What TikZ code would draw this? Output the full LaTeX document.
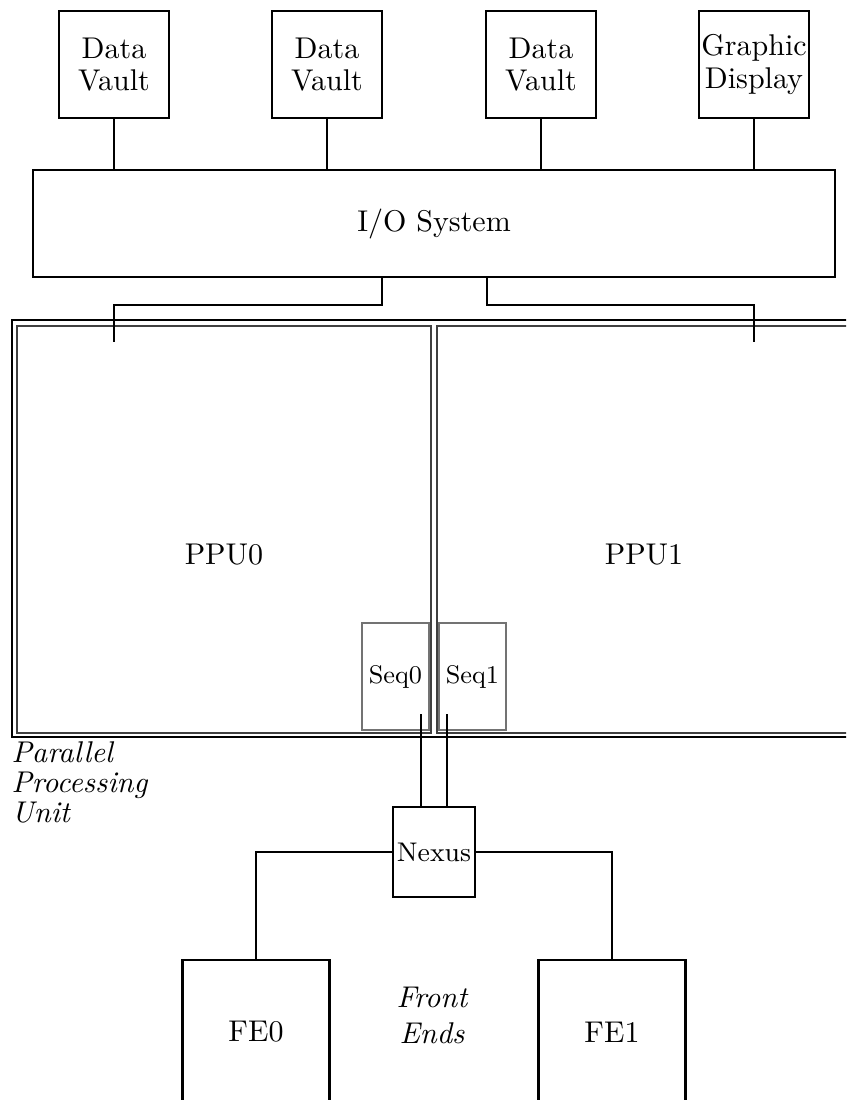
\documentclass[tikz,border=0pt]{standalone}
\usetikzlibrary{positioning, calc}

\begin{document}
\begin{tikzpicture}[x=0.3333pt, y=-0.3333pt,
        unit/.style={draw, line width=0.7pt, inner sep=0pt, align=center,
          font=\fontsize{10}{10.8}\selectfont},
        vault/.style={unit, minimum width=36.5pt, minimum height=35.7pt},
        febox/.style={unit, minimum width=49pt, minimum height=48pt},
        ppubox/.style={draw=black!75, line width=0.45pt, minimum width=138pt, minimum height=135.7pt},
        seqbox/.style={draw=black!55, line width=0.4pt, inner sep=0pt,
          font=\fontsize{8.5}{10}\selectfont, minimum width=22.3pt, minimum height=35.7pt},
        caption/.style={font=\itshape\fontsize{10}{10}\selectfont, inner sep=0pt},
        wire/.style={line width=0.7pt}]
      \useasboundingbox (0,0) rectangle (846,1100);
      \clip (0,0) rectangle (846,1100);
      % storage and display
      \node[vault] (dv1) at (114,64.5) {Data\\Vault};
      \node[vault] (dv2) at (327,64.5) {Data\\Vault};
      \node[vault] (dv3) at (541,64.5) {Data\\Vault};
      \node[vault] (gd) at (754,64.5) {Graphic\\Display};
      \node[unit, minimum width=267.3pt, minimum height=35.7pt] (io) at (434,223.5) {I/O System};
      % parallel processing unit
      \node[draw, line width=0.8pt, minimum width=281.3pt, minimum height=139pt] (ppu) at (434,528.5) {};
      \node[ppubox] (ppu0) at (224,529.5) {};
      \node[ppubox] (ppu1) at (644,529.5) {};
      \node[font=\fontsize{10}{12}\selectfont] (ppu0lbl) at (224,555) {PPU0};
      \node[font=\fontsize{10}{12}\selectfont] (ppu1lbl) at (644,555) {PPU1};
      \node[seqbox] (seq0) at (395.5,676.5) {Seq0};
      \node[seqbox] (seq1) at (472.5,676.5) {Seq1};
      \node[caption, anchor=north west, align=left] (ppucap) at (11,741) {Parallel\\Processing\\Unit};
      % front ends
      \node[unit, minimum width=27.3pt, minimum height=30pt, font=\fontsize{9}{10}\selectfont] (nexus) at (434,852) {Nexus};
      \node[febox] (fe0) at (256,1032) {FE0};
      \node[febox] (fe1) at (612,1032) {FE1};
      \node[caption, align=center, font=\itshape\fontsize{10}{12}\selectfont] (fecap) at (432,1015) {Front\\Ends};
      % connections
      \foreach \b in {dv1,dv2,dv3,gd}
        \draw[wire] (\b.south) -- (\b.south |- io.north);
      \coordinate (in0) at ($(ppu0.north -| dv1.south)+(0,17)$);
      \coordinate (in1) at ($(ppu1.north -| gd.south)+(0,17)$);
      \draw[wire] ([xshift=-17.4pt]io.south) -- ++(0,27) -| (in0);
      \draw[wire] ([xshift=17.6pt]io.south) -- ++(0,27) -| (in1);
      \coordinate (out0) at (421,714);
      \coordinate (out1) at (447,714);
      \draw[wire] (out0) -- (out0 |- nexus.north);
      \draw[wire] (out1) -- (out1 |- nexus.north);
      \draw[wire] (nexus.west) -| (fe0.north);
      \draw[wire] (nexus.east) -| (fe1.north);
    \end{tikzpicture}
\end{document}
